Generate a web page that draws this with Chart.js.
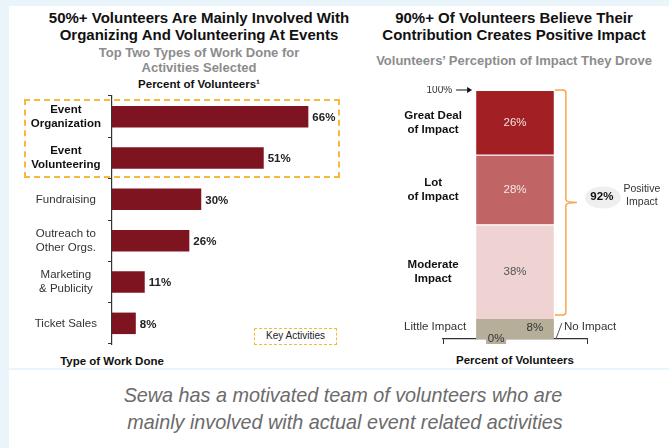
<!DOCTYPE html>
<html>
<head>
<meta charset="utf-8">
<script src="https://cdn.jsdelivr.net/npm/chart.js@4.4.1/dist/chart.umd.min.js"></script>
<style>
  html, body { margin: 0; padding: 0; }
  body {
    width: 669px; height: 448px; position: relative; overflow: hidden;
    background: #eaf4fb;
    font-family: "Liberation Sans", Arial, sans-serif;
  }
  .panel { position: absolute; background: #fff; }
  .t { position: absolute; width: 400px; text-align: center; white-space: nowrap; height: 18px; line-height: 18px; }
  .title { font-size: 15px; font-weight: bold; color: #111; }
  .sub { font-size: 13px; font-weight: bold; color: #8c8c8c; }
  .axis { font-size: 11.5px; font-weight: bold; color: #111; }
  .note { width: 600px; font-size: 19.8px; font-style: italic; color: #6b6b6b; height: 26px; line-height: 26px; }
  .dash { position: absolute; box-sizing: border-box; border: 2px dashed #f6b93b; }
  canvas { position: absolute; }
</style>
</head>
<body>
<div class="panel" style="left:9px; top:6px; width:660px; height:362px;"></div>
<div class="panel" style="left:9px; top:370px; width:660px; height:78px;"></div>

<!-- left side texts -->
<div class="t title" style="left:-1px; top:9px;">50%+ Volunteers Are Mainly Involved With</div>
<div class="t title" style="left:-1px; top:26px;">Organizing And Volunteering At Events</div>
<div class="t sub" style="left:-1px; top:44px;">Top Two Types of Work Done for</div>
<div class="t sub" style="left:-1px; top:59px;">Activities Selected</div>
<div class="t axis" style="left:-1px; top:75px;">Percent of Volunteers¹</div>
<div class="t axis" style="left:-88px; top:352px;">Type of Work Done</div>

<!-- right side texts -->
<div class="t title" style="left:314px; top:9px;">90%+ Of Volunteers Believe Their</div>
<div class="t title" style="left:314px; top:26px;">Contribution Creates Positive Impact</div>
<div class="t sub" style="left:314px; top:52px;">Volunteers’ Perception of Impact They Drove</div>
<div class="t axis" style="left:315px; top:351px;">Percent of Volunteers</div>

<!-- bottom note -->
<div class="t note" style="left:43px; top:382px;">Sewa has a motivated team of volunteers who are</div>
<div class="t note" style="left:45px; top:409px;">mainly involved with actual event related activities</div>

<!-- key activity highlight -->
<div class="dash" style="left:24px; top:99px; width:316px; height:79px;"></div>
<div class="dash" style="left:254px; top:328px; width:83px; height:17px; border-width:1.5px; font-size:10px; line-height:14px; text-align:center; color:#222;">Key Activities</div>

<canvas id="workChart" width="330" height="250" style="left:20px; top:95px;"></canvas>
<canvas id="impactChart" width="299" height="261" style="left:370px; top:86px;"></canvas>

<script>
// Dados
const workTypes = [["Event", "Organization"], ["Event", "Volunteering"], "Fundraising", ["Outreach to", "Other Orgs."], ["Marketing", "& Publicity"], "Ticket Sales"];
const workShare = [66, 51, 30, 26, 11, 8];
const keyActivityCount = 2;

const impactLevels = ["No Impact", "Little Impact", "Moderate Impact", "Lot of Impact", "Great Deal of Impact"];
const impactShare = [0, 8, 38, 28, 26];
const impactColors = ["#b6ae99", "#b6ae99", "#efd3d3", "#c06465", "#a21f23"];

const FONT = '"Liberation Sans", Arial, sans-serif';
Chart.defaults.font.family = FONT;
Chart.defaults.color = "#333";

// Rótulos de valor ao lado das barras
const workLabels = {
  id: "workLabels",
  afterDatasetsDraw(chart) {
    const ctx = chart.ctx;
    ctx.save();
    ctx.font = "bold 11.5px " + FONT;
    ctx.fillStyle = "#222";
    ctx.textBaseline = "middle";
    chart.getDatasetMeta(0).data.forEach((bar, i) => {
      ctx.fillText(workShare[i] + "%", bar.x + 4, bar.y + 1);
    });
    ctx.restore();
  },
};

new Chart(document.getElementById("workChart"), {
  type: "bar",
  data: {
    labels: workTypes,
    datasets: [{ data: workShare, backgroundColor: "#7e1420", barPercentage: 0.52, categoryPercentage: 1 }],
  },
  options: {
    indexAxis: "y",
    responsive: false,
    animation: false,
    layout: { padding: { top: 1, bottom: 1, left: 0, right: 0 } },
    scales: {
      x: { display: false, min: 0, max: 80 },
      y: {
        afterFit(scale) {
          scale.width = 92;
          // sem margem extra em cima/embaixo por causa dos rótulos
          scale.paddingTop = 0;
          scale.paddingBottom = 0;
        },
        border: { color: "#333", width: 1.2 },
        grid: { offset: true, drawOnChartArea: false, tickLength: 4, color: "#333" },
        ticks: {
          crossAlign: "center",
          padding: 7,
          color: (c) => (c.index < keyActivityCount ? "#111" : "#333"),
          font: (c) => ({ size: 11.5, lineHeight: 1.25, weight: c.index < keyActivityCount ? "bold" : "normal" }),
        },
      },
    },
    plugins: { legend: { display: false }, tooltip: { enabled: false } },
  },
  plugins: [workLabels],
});

// Anotações do gráfico de impacto
const impactDecor = {
  id: "impactDecor",
  afterDraw(chart) {
    const ctx = chart.ctx;
    const yScale = chart.scales.y;
    const metas = chart.data.datasets.map((d, i) => chart.getDatasetMeta(i));
    const ref = metas[4].data[0];
    const left = ref.x - ref.width / 2;
    const right = ref.x + ref.width / 2;
    const catX = left - 43;
    ctx.save();
    ctx.textBaseline = "middle";

    const catLines = { 2: ["Moderate", "Impact"], 3: ["Lot", "of Impact"], 4: ["Great Deal", "of Impact"] };
    const valColors = { 2: "#555", 3: "#f6e6e6", 4: "#f4e2e2" };
    metas.forEach((meta, i) => {
      const el = meta.data[0];
      const cy = (el.y + el.base) / 2;
      if (catLines[i]) {
        ctx.font = "bold 11.5px " + FONT;
        ctx.fillStyle = "#111";
        ctx.textAlign = "center";
        ctx.fillText(catLines[i][0], catX, cy - 7);
        ctx.fillText(catLines[i][1], catX, cy + 7);
        ctx.font = "11.5px " + FONT;
        ctx.fillStyle = valColors[i];
        ctx.fillText(impactShare[i] + "%", ref.x, cy);
      }
    });

    // Little Impact
    const little = metas[1].data[0];
    const ly = (little.y + little.base) / 2 - 2;
    ctx.font = "11.5px " + FONT;
    ctx.fillStyle = "#333";
    ctx.textAlign = "right";
    ctx.fillText("Little Impact", left - 10, ly);
    ctx.textAlign = "center";
    ctx.fillText(impactShare[1] + "%", right - 19, ly + 1);

    // No Impact
    const none = metas[0].data[0];
    ctx.textAlign = "left";
    ctx.fillText("No Impact", right + 10, ly);
    ctx.strokeStyle = "#555";
    ctx.lineWidth = 1;
    ctx.beginPath();
    ctx.moveTo(right + 2, none.base);
    ctx.lineTo(right + 8, ly - 4);
    ctx.stroke();
    ctx.fillStyle = impactColors[0];
    ctx.fillRect(left + 10, none.base - 6, 20, 11);
    ctx.fillStyle = "#333";
    ctx.textAlign = "center";
    ctx.fillText(impactShare[0] + "%", left + 20, none.base);

    // 100% arrow
    const top = yScale.getPixelForValue(100);
    ctx.font = "10px " + FONT;
    ctx.textAlign = "right";
    ctx.fillText("100%", left - 24, top);
    ctx.strokeStyle = "#111";
    ctx.beginPath();
    ctx.moveTo(left - 20, top);
    ctx.lineTo(left - 6, top);
    ctx.stroke();
    ctx.fillStyle = "#111";
    ctx.beginPath();
    ctx.moveTo(left - 4, top);
    ctx.lineTo(left - 9, top - 3);
    ctx.lineTo(left - 9, top + 3);
    ctx.closePath();
    ctx.fill();

    // Chave laranja
    const bottom = yScale.getPixelForValue(impactShare[1]) - 4;
    const x0 = right + 1, x1 = right + 12, tip = right + 23;
    const mid = (top + bottom) / 2;
    ctx.strokeStyle = "#f7a54b";
    ctx.lineWidth = 1.5;
    ctx.beginPath();
    ctx.moveTo(x0, top);
    ctx.lineTo(x1 - 3, top);
    ctx.quadraticCurveTo(x1, top, x1, top + 3);
    ctx.lineTo(x1, mid - 3);
    ctx.quadraticCurveTo(x1, mid, tip, mid);
    ctx.quadraticCurveTo(x1, mid, x1, mid + 3);
    ctx.lineTo(x1, bottom - 3);
    ctx.quadraticCurveTo(x1, bottom, x1 - 3, bottom);
    ctx.lineTo(x0, bottom);
    ctx.stroke();

    // 92% positivo
    const positive = impactShare[2] + impactShare[3] + impactShare[4];
    ctx.fillStyle = "#efefef";
    ctx.beginPath();
    ctx.ellipse(tip + 26, mid - 5, 18, 11, 0, 0, Math.PI * 2);
    ctx.fill();
    ctx.fillStyle = "#111";
    ctx.font = "bold 11.5px " + FONT;
    ctx.textAlign = "center";
    ctx.fillText(positive + "%", tip + 25, mid - 6);
    ctx.font = "10.5px " + FONT;
    ctx.fillStyle = "#333";
    ctx.fillText("Positive", tip + 65, mid - 13);
    ctx.fillText("Impact", tip + 65, mid);
    ctx.restore();
  },
};

new Chart(document.getElementById("impactChart"), {
  type: "bar",
  data: {
    labels: [""],
    datasets: impactLevels.map((lvl, i) => ({
      label: lvl,
      data: [impactShare[i]],
      backgroundColor: impactColors[i],
      borderColor: "#fff",
      borderWidth: { top: i > 1 ? 1 : 0, bottom: 0, left: 0, right: 0 },
      borderSkipped: false,
      barPercentage: 0.54,
      categoryPercentage: 1,
    })),
  },
  options: {
    responsive: false,
    animation: false,
    layout: { padding: { left: 73, right: 82, top: 4, bottom: 2 } },
    scales: {
      x: {
        stacked: true,
        afterFit(scale) { scale.height = 6; },
        border: { color: "#333", width: 1.2 },
        grid: { offset: true, drawOnChartArea: false, tickLength: 5, color: "#333" },
        ticks: { display: true, padding: 0 },
      },
      y: { stacked: true, display: false, min: 0, max: 100 },
    },
    plugins: { legend: { display: false }, tooltip: { enabled: false } },
  },
  plugins: [impactDecor],
});
</script>
</body>
</html>
